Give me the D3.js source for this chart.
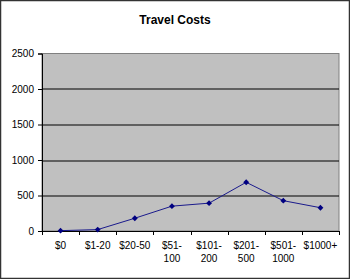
<!DOCTYPE html>
<html>
<head>
<meta charset="utf-8">
<script src="https://cdn.jsdelivr.net/npm/d3@7"></script>
<style>
  body { margin: 0; background: #fff; }
  text { font-family: Arial, "Liberation Sans", sans-serif; }
</style>
</head>
<body>
<div id="chart"></div>
<script>
const categories = ['$0', '$1-20', '$20-50', '$51-|100', '$101-|200', '$201-|500', '$501-|1000', '$1000+']
const costs = [5, 20, 180, 350, 392, 686, 427, 328]
const yTicks = [0, 500, 1000, 1500, 2000, 2500]

const width = 350, height = 279
const margin = { top: 53.5, right: 11, bottom: 48, left: 42 }

const svg = d3.select('#chart').append('svg').attr('width', width).attr('height', height)

svg.append('rect').attr('x', 0.5).attr('y', 0.5).attr('width', width - 1).attr('height', height - 1)
    .attr('fill', '#fff').attr('stroke', '#333').attr('stroke-width', 1.5)

svg.append('text').attr('x', 175).attr('y', 24).attr('text-anchor', 'middle')
    .style('font-size', '12px').style('font-weight', 'bold').text('Travel Costs')

const innerW = width - margin.left - margin.right
const innerH = height - margin.top - margin.bottom

const g = svg.append('g').attr('transform', `translate(${margin.left},${margin.top})`)

const xScale = d3.scaleBand().domain(categories).range([0, innerW])
const yScale = d3.scaleLinear().domain([0, 2500]).range([innerH, 0])

g.append('rect').attr('width', innerW).attr('height', innerH)
    .attr('fill', '#c0c0c0').attr('stroke', '#808080')

// gridlines
g.selectAll('.grid').data(yTicks.slice(1, -1)).enter().append('line')
    .attr('x1', 0).attr('x2', innerW)
    .attr('y1', d => Math.round(yScale(d)) + 0.5).attr('y2', d => Math.round(yScale(d)) + 0.5)
    .attr('stroke', '#000')

// y axis
const yAxis = g.append('g').call(d3.axisLeft(yScale).tickValues(yTicks).tickFormat(d3.format('d')).tickSize(4).tickPadding(4))
yAxis.selectAll('text').style('font-size', '10px').attr('fill', '#000')
yAxis.select('.domain').attr('stroke', '#000')

// x axis with ticks at band boundaries
const xAxis = g.append('g').attr('transform', `translate(0,${innerH})`)
xAxis.append('line').attr('x1', 0).attr('x2', innerW).attr('y1', 0.5).attr('y2', 0.5).attr('stroke', '#000')
const bounds = d3.range(categories.length + 1).map(i => i * xScale.step())
xAxis.selectAll('.xtick').data(bounds).enter().append('line')
    .attr('x1', d => Math.round(d) + 0.5).attr('x2', d => Math.round(d) + 0.5)
    .attr('y1', 0).attr('y2', 4).attr('stroke', '#000')
const labels = xAxis.selectAll('.xlabel').data(categories).enter().append('text')
    .attr('text-anchor', 'middle').style('font-size', '10px')
    .attr('transform', d => `translate(${xScale(d) + xScale.bandwidth() / 2},18)`)
labels.selectAll('tspan').data(d => d.split('|')).enter().append('tspan')
    .attr('x', 0).attr('dy', (d, i) => i === 0 ? 0 : 13).text(d => d)

// line
const line = d3.line().x((d, i) => xScale(categories[i]) + xScale.bandwidth() / 2).y(d => yScale(d))
g.append('path').datum(costs).attr('d', line).attr('fill', 'none')
    .attr('stroke', '#1a1a8c').attr('stroke-width', 1)

g.selectAll('.pt').data(costs).enter().append('path')
    .attr('d', d3.symbol().type(d3.symbolDiamond2).size(22))
    .attr('transform', (d, i) => `translate(${xScale(categories[i]) + xScale.bandwidth() / 2},${yScale(d)})`)
    .attr('fill', '#000080')
</script>
</body>
</html>
